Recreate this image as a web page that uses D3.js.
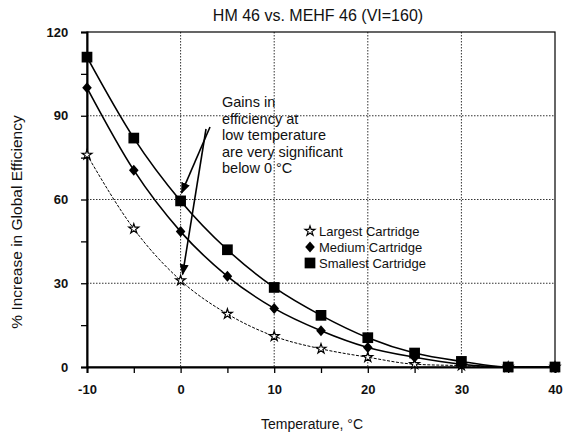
<!DOCTYPE html>
<html><head><meta charset="utf-8">
<script src="https://cdn.jsdelivr.net/npm/d3@7"></script>
<style>body{margin:0;background:#fff}svg{display:block;font-family:"Liberation Sans",Arial,sans-serif}</style>
</head><body><svg id="c" width="563" height="441"></svg>
<script>
const temps = [-10,-5,0,5,10,15,20,25,30,35,40];
const largest = [76,49.5,31,19,11,6.5,3.5,1,0.5,0,0];
const medium = [100,70.5,48.5,32.5,21,13,7,3.5,1,0,0];
const smallest = [111,82,59.5,42,28.5,18.5,10.5,5,2,0,0];
const seriesNames = ["Largest Cartridge","Medium Cartridge","Smallest Cartridge"];
const xTicks = [-10,0,10,20,30,40];
const yTicks = [0,30,60,90,120];
const title = "HM 46 vs. MEHF 46 (VI=160)";
const noteLines = ["Gains in","efficiency at","low temperature","are very significant","below 0 °C"];

const svg = d3.select("#c");
const L=87,R=555,T=32,B=367;
const x = d3.scaleLinear().domain([-10,40]).range([L,R]);
const y = d3.scaleLinear().domain([0,120]).range([B,T]);

// grid
const g = svg.append("g");
g.selectAll(".vg").data([0,10,20,30]).join("line")
 .attr("x1",d=>x(d)).attr("x2",d=>x(d)).attr("y1",T).attr("y2",B)
 .attr("stroke","#333").attr("stroke-width",1).attr("stroke-dasharray","1.5,1.5");
g.selectAll(".hg").data([30,60,90]).join("line")
 .attr("y1",d=>y(d)).attr("y2",d=>y(d)).attr("x1",L).attr("x2",R)
 .attr("stroke","#333").attr("stroke-width",1).attr("stroke-dasharray","1.5,1.5");
// border
svg.append("rect").attr("x",L).attr("y",T).attr("width",R-L).attr("height",B-T)
 .attr("fill","none").attr("stroke","#000").attr("stroke-width",1.2);

// axes
const xAxis = d3.axisBottom(x).tickValues(d3.range(-10,41,5)).tickSize(6)
 .tickFormat(d=>xTicks.includes(d)?d:"");
const xg = svg.append("g").attr("transform",`translate(0,${B})`).call(xAxis);
xg.select(".domain").attr("stroke-width",2);
xg.selectAll("text").attr("y",27).attr("dy",0).attr("font-size",13).attr("font-weight","bold").attr("fill","#111");
const yAxis = d3.axisLeft(y).tickValues(d3.range(0,121,15)).tickSize(6)
 .tickFormat(d=>yTicks.includes(d)?d:"");
const yg = svg.append("g").attr("transform",`translate(${L},0)`).call(yAxis);
yg.select(".domain").attr("stroke-width",2);
yg.selectAll("text").attr("dx","-0.75em").attr("font-size",13).attr("font-weight","bold").attr("fill","#111");
svg.selectAll(".tick line").attr("stroke-width",1.3);

// series
const sets = [largest,medium,smallest];
const line = d3.line().x((d,i)=>x(temps[i])).y(d=>y(d)).curve(d3.curveMonotoneX);
const styles = [
 {w:1, dash:"3,1.5"},
 {w:1.6, dash:null},
 {w:1.6, dash:null}
];
sets.forEach((s,k)=>{
 svg.append("path").datum(s).attr("d",line).attr("fill","none")
  .attr("stroke","#000").attr("stroke-width",styles[k].w)
  .attr("stroke-dasharray",styles[k].dash);
});
const star = d3.symbol().type(d3.symbolStar).size(30);
const diamondPath = "M0,-5.5L4.8,0L0,5.5L-4.8,0Z";
const square = d3.symbol().type(d3.symbolSquare).size(115);
function marker(sel,k){
 if(k===0) sel.attr("d",star).attr("fill","#fff").attr("stroke","#000").attr("stroke-width",1.2);
 else if(k===1) sel.attr("d",diamondPath).attr("fill","#000");
 else sel.attr("d",square).attr("fill","#000");
}
sets.forEach((s,k)=>{
 svg.append("g").selectAll("path").data(s).join("path")
  .attr("transform",(d,i)=>`translate(${x(temps[i])},${y(d)})`)
  .call(sel=>marker(sel,k));
});

// title & axis titles
svg.append("text").attr("x",318).attr("y",21).attr("text-anchor","middle")
 .attr("font-size",16).attr("fill","#111").text(title);
svg.append("text").attr("x",312).attr("y",429).attr("text-anchor","middle")
 .attr("font-size",14).attr("fill","#111").text("Temperature, °C");
svg.append("text").attr("transform","translate(22,222) rotate(-90)").attr("text-anchor","middle")
 .attr("font-size",15.5).attr("fill","#111").text("% Increase in Global Efficiency");

// annotation
const nt = svg.append("text").attr("font-size",14.5).attr("fill","#111");
noteLines.forEach((t,i)=>nt.append("tspan").attr("x",222).attr("y",107+i*16.5).text(t));
svg.append("defs").append("marker").attr("id","ah").attr("viewBox","0 0 10 10")
 .attr("refX",9).attr("refY",5).attr("markerWidth",7).attr("markerHeight",7).attr("orient","auto")
 .append("path").attr("d","M0,1 L10,5 L0,9 Z").attr("fill","#000");
[[x(0)+1,y(smallest[2])-8],[x(0)+2,y(largest[2])-6]].forEach(([ex,ey],i)=>{
 svg.append("line").attr("x1",i?206:210).attr("y1",i?129:127).attr("x2",ex).attr("y2",ey)
  .attr("stroke","#000").attr("stroke-width",1.6).attr("marker-end","url(#ah)");
});

// legend
const lg = svg.append("g");
seriesNames.forEach((n,k)=>{
 const yy = 231+k*16;
 lg.append("path").attr("transform",`translate(310,${yy})`).call(sel=>marker(sel,k));
 lg.append("text").attr("x",319).attr("y",yy+4.5).attr("font-size",13).attr("fill","#111").text(n);
});
</script></body></html>
